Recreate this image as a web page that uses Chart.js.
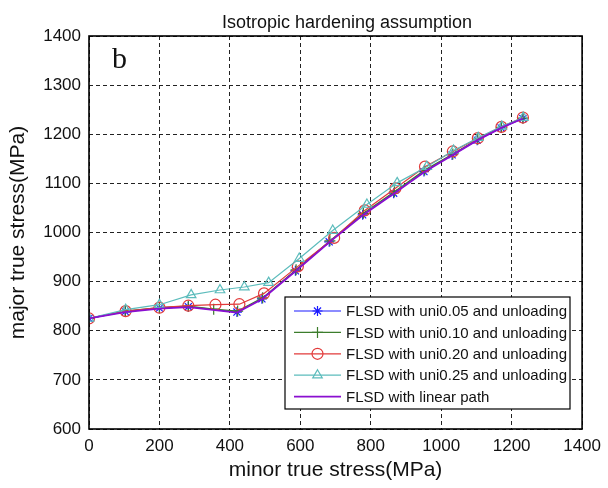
<!DOCTYPE html>
<html>
<head>
<meta charset="utf-8">
<script src="https://cdn.jsdelivr.net/npm/chart.js@4.4.1/dist/chart.umd.min.js"></script>
<style>
  html, body { margin: 0; padding: 0; background: #fff; }
  #wrap { width: 608px; height: 488px; position: relative; }
</style>
</head>
<body>
<div id="wrap"><canvas id="chart" width="608" height="488"></canvas></div>
<script>
// axis ticks
const xTicks = [0, 200, 400, 600, 800, 1000, 1200, 1400];
const yTicks = [600, 700, 800, 900, 1000, 1100, 1200, 1300, 1400];

const seriesNames = [
  'FLSD with uni0.05 and unloading',
  'FLSD with uni0.10 and unloading',
  'FLSD with uni0.20 and unloading',
  'FLSD with uni0.25 and unloading',
  'FLSD with linear path'
];

// minor / major true stress (MPa)
const uni05X = [0, 103, 200, 282, 420, 491, 586, 682, 777, 865, 951, 1031, 1102, 1170, 1232];
const uni05Y = [825, 839, 846, 849, 838, 865, 922, 981, 1036, 1080, 1124, 1158, 1188, 1213, 1232];
const uni10X = [0, 103, 200, 282, 354, 422, 493, 588, 684, 779, 867, 953, 1033, 1104, 1171, 1232];
const uni10Y = [825, 840, 847, 850, 844, 840, 867, 924, 983, 1039, 1083, 1127, 1160, 1190, 1214, 1233];
const uni20X = [0, 104, 200, 282, 359, 427, 497, 593, 696, 783, 870, 954, 1033, 1104, 1171, 1232];
const uni20Y = [825, 840, 847, 851, 853, 854, 876, 931, 989, 1045, 1090, 1134, 1165, 1192, 1215, 1234];
const uni25X = [0, 104, 200, 290, 372, 441, 510, 597, 692, 789, 875, 959, 1035, 1105, 1172, 1233];
const uni25Y = [825, 843, 853, 873, 883, 889, 898, 947, 1004, 1057, 1101, 1134, 1167, 1193, 1216, 1234];
const linearX = [0, 103, 200, 282, 420, 491, 586, 682, 777, 865, 952, 1033, 1103, 1170, 1232];
const linearY = [825, 838, 845, 848, 837, 864, 921, 980, 1035, 1079, 1123, 1158, 1188, 1213, 1232];

const pts = (xs, ys) => xs.map((x, i) => ({x: x, y: ys[i]}));

const colors = ['#1a1aff', '#3c7d2c', '#e23a3a', '#5cbcbc', '#8a0fd0'];
const styles = ['star', 'cross', 'circle', 'triangle', false];
const allX = [uni05X, uni10X, uni20X, uni25X, linearX];
const allY = [uni05Y, uni10Y, uni20Y, uni25Y, linearY];

const datasets = seriesNames.map((name, i) => ({
  label: name,
  data: pts(allX[i], allY[i]),
  borderColor: colors[i],
  borderWidth: i == 4 ? 1.8 : 1.2,
  pointStyle: styles[i],
  pointRadius: i == 4 ? 0 : (i == 0 ? 5 : 5.5),
  pointBorderColor: colors[i],
  pointBackgroundColor: 'rgba(0,0,0,0)',
  pointBorderWidth: 1.2,
  fill: false,
  tension: 0,
  order: 5 - i
}));

const font = 'Liberation Sans, Arial, sans-serif';

const extras = {
  id: 'extras',
  afterDraw(chart) {
    const {ctx, chartArea: a} = chart;
    ctx.save();
    // axes box
    ctx.strokeStyle = '#000';
    ctx.lineWidth = 1.6;
    ctx.setLineDash([]);
    ctx.strokeRect(a.left, a.top, a.right - a.left, a.bottom - a.top);

    // title
    ctx.fillStyle = '#111';
    ctx.font = '18px ' + font;
    ctx.textAlign = 'center';
    ctx.textBaseline = 'alphabetic';
    ctx.fillText('Isotropic hardening assumption', 347, 28);

    // panel letter
    ctx.font = '30px "Liberation Serif", "Times New Roman", serif';
    ctx.textAlign = 'left';
    ctx.fillText('b', 112, 68);

    // legend
    const lx = 285, ly = 297, lw = 285, lh = 112;
    ctx.fillStyle = '#fff';
    ctx.fillRect(lx, ly, lw, lh);
    ctx.lineWidth = 1.2;
    ctx.strokeStyle = '#000';
    ctx.strokeRect(lx, ly, lw, lh);
    ctx.font = '15px ' + font;
    ctx.textBaseline = 'middle';
    chart.data.datasets.forEach((ds, i) => {
      const y = 311 + i * 21.4;
      ctx.strokeStyle = ds.borderColor;
      ctx.lineWidth = ds.borderWidth;
      ctx.beginPath();
      ctx.moveTo(294, y);
      ctx.lineTo(341, y);
      ctx.stroke();
      if (ds.pointStyle) {
        ctx.fillStyle = 'rgba(0,0,0,0)';
        ctx.lineWidth = ds.pointBorderWidth;
        Chart.helpers.drawPoint(ctx, {pointStyle: ds.pointStyle, radius: ds.pointRadius, borderWidth: ds.pointBorderWidth, rotation: 0}, 317.5, y);
      }
      ctx.fillStyle = '#111';
      ctx.fillText(ds.label, 346, y + 1);
    });
    ctx.restore();
  }
};

new Chart(document.getElementById('chart'), {
  type: 'line',
  data: { datasets: datasets },
  options: {
    responsive: false,
    animation: false,
    layout: { padding: { top: 36, right: 21, left: 0, bottom: 0 } },
    plugins: { legend: { display: false }, tooltip: { enabled: false } },
    scales: {
      x: {
        type: 'linear',
        min: 0, max: 1400,
        afterBuildTicks: s => { s.ticks = xTicks.map(v => ({value: v})); },
        afterFit: s => { s.height = 59; },
        grid: { color: '#222', lineWidth: 1, drawTicks: false },
        border: { display: false, dash: [4, 3] },
        ticks: { color: '#111', font: { family: font, size: 17 }, padding: 7, maxRotation: 0, callback: v => String(v) },
        title: { display: true, text: 'minor true stress(MPa)', color: '#111', font: { family: font, size: 21 }, padding: { top: 0, bottom: 5 } }
      },
      y: {
        min: 600, max: 1400,
        afterBuildTicks: s => { s.ticks = yTicks.map(v => ({value: v})); },
        afterFit: s => { s.width = 89; },
        grid: { color: '#222', lineWidth: 1, drawTicks: false },
        border: { display: false, dash: [4, 3] },
        ticks: { color: '#111', font: { family: font, size: 17 }, padding: 8, callback: v => String(v) },
        title: { display: true, text: 'major true stress(MPa)', color: '#111', font: { family: font, size: 21 }, padding: { top: 6, bottom: 0 } }
      }
    }
  },
  plugins: [extras]
});
</script>
</body>
</html>
